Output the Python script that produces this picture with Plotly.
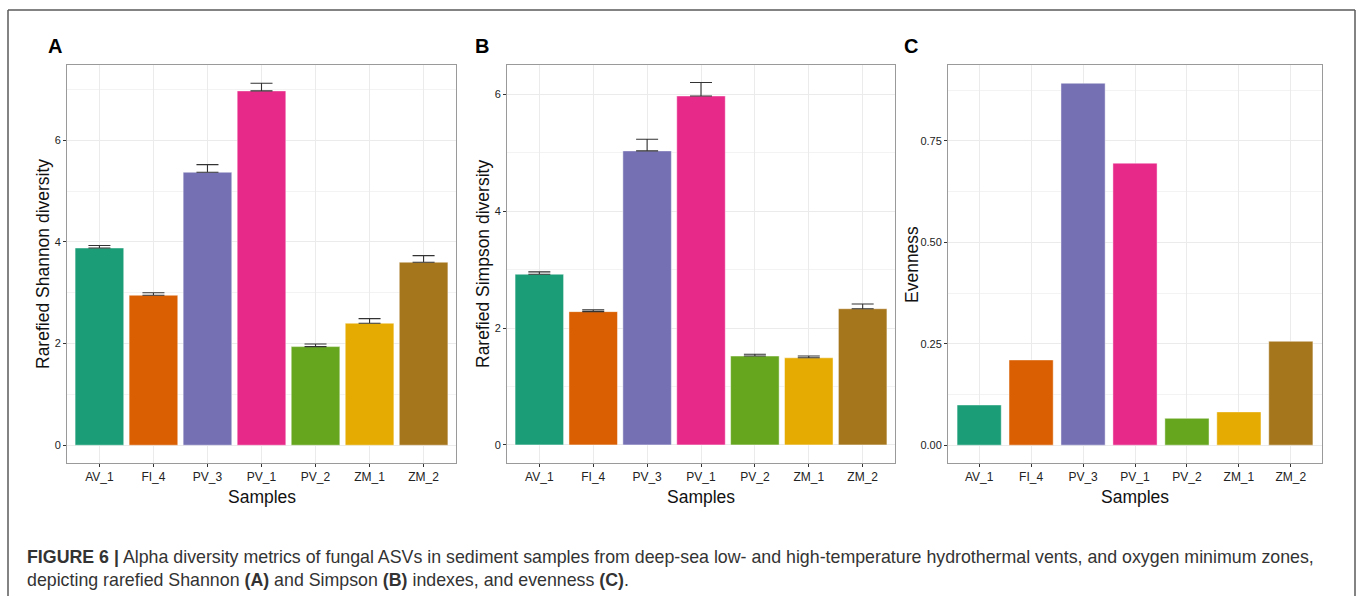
import plotly.graph_objects as go

# ---------------- data ----------------
samples = ["AV_1", "FI_4", "PV_3", "PV_1", "PV_2", "ZM_1", "ZM_2"]
bar_colors = ["#1B9E77", "#D95F02", "#7570B3", "#E7298A", "#66A61E", "#E6AB02", "#A6761D"]

shannon = [3.88, 2.95, 5.37, 6.97, 1.94, 2.40, 3.60]
shannon_se = [0.05, 0.05, 0.15, 0.15, 0.05, 0.09, 0.13]

simpson = [2.92, 2.28, 5.03, 5.97, 1.52, 1.49, 2.33]
simpson_se = [0.04, 0.03, 0.20, 0.23, 0.03, 0.03, 0.08]

evenness = [0.099, 0.210, 0.892, 0.695, 0.066, 0.082, 0.256]

W, H = 1358, 596


def px_x(x):
    return x / W


def px_y(y):
    return (H - y) / H


fig = go.Figure()

err_style = dict(type="data", symmetric=False, color="#333333", thickness=1.1, width=11)

fig.add_trace(go.Bar(
    x=samples, y=shannon, width=0.9,
    marker=dict(color=bar_colors, line=dict(color="rgba(255,255,255,0.45)", width=1)),
    error_y=dict(array=shannon_se, arrayminus=[0] * len(samples), **err_style),
    xaxis="x", yaxis="y", showlegend=False))

fig.add_trace(go.Bar(
    x=samples, y=simpson, width=0.9,
    marker=dict(color=bar_colors, line=dict(color="rgba(255,255,255,0.45)", width=1)),
    error_y=dict(array=simpson_se, arrayminus=[0] * len(samples), **err_style),
    xaxis="x2", yaxis="y2", showlegend=False))

fig.add_trace(go.Bar(
    x=samples, y=evenness, width=0.85,
    marker=dict(color=bar_colors, line=dict(color="rgba(255,255,255,0.45)", width=1)),
    xaxis="x3", yaxis="y3", showlegend=False))

ydom = [px_y(463), px_y(65)]
xdoms = [[px_x(67), px_x(456)], [px_x(507), px_x(895)], [px_x(948), px_x(1322)]]

common_x = dict(type="category", range=[-0.6, 6.6], showgrid=True, gridcolor="#EBEBEB",
                gridwidth=1, ticks="outside", ticklen=3, tickcolor="#333333",
                showline=True, mirror=True, linecolor="#9A9A9A", linewidth=1,
                tickfont=dict(size=12, color="#222222"), zeroline=False)
common_y = dict(showgrid=True, gridcolor="#EBEBEB", gridwidth=1, ticks="outside",
                ticklen=3, tickcolor="#333333", showline=True, mirror=True,
                linecolor="#9A9A9A", linewidth=1, zeroline=False,
                tickfont=dict(size=11, color="#222222"))

fig.update_layout(
    width=W, height=H, margin=dict(l=0, r=0, t=0, b=0),
    paper_bgcolor="white", plot_bgcolor="white",
    font=dict(family="Liberation Sans, Arial, sans-serif", color="#222222"),
    showlegend=False,
    xaxis=dict(domain=xdoms[0], anchor="y", **common_x),
    xaxis2=dict(domain=xdoms[1], anchor="y2", **common_x),
    xaxis3=dict(domain=xdoms[2], anchor="y3", **common_x),
    yaxis=dict(domain=ydom, anchor="x", range=[-0.35, 7.48], tickvals=[0, 2, 4, 6],
               minor=dict(tickvals=[1, 3, 5, 7], showgrid=True, gridcolor="#F3F3F3", gridwidth=0.7),
               **common_y),
    yaxis2=dict(domain=ydom, anchor="x2", range=[-0.31, 6.5], tickvals=[0, 2, 4, 6],
                minor=dict(tickvals=[1, 3, 5], showgrid=True, gridcolor="#F3F3F3", gridwidth=0.7),
                **common_y),
    yaxis3=dict(domain=ydom, anchor="x3", range=[-0.044, 0.937], tickvals=[0, 0.25, 0.5, 0.75],
                tickformat=".2f",
                minor=dict(tickvals=[0.125, 0.375, 0.625, 0.875], showgrid=True,
                           gridcolor="#F3F3F3", gridwidth=0.7),
                **common_y),
)

annotations = []
# panel letters
for letter, cx in [("A", 54.5), ("B", 482), ("C", 911)]:
    annotations.append(dict(text=f"<b>{letter}</b>", x=px_x(cx), y=px_y(46), xref="paper",
                            yref="paper", showarrow=False, xanchor="center", yanchor="middle",
                            font=dict(size=20, color="#000000",
                                      family="Liberation Sans, Arial, sans-serif")))
# y-axis titles
for txt, cx in [("Rarefied Shannon diversity", 43), ("Rarefied Simpson diversity", 483),
                ("Evenness", 912)]:
    annotations.append(dict(text=txt, x=px_x(cx), y=px_y(264), xref="paper", yref="paper",
                            showarrow=False, textangle=-90, xanchor="center", yanchor="middle",
                            font=dict(size=17.5, color="#111111")))
# x-axis titles
for cx in [261.5, 701, 1135]:
    annotations.append(dict(text="Samples", x=px_x(cx), y=px_y(497), xref="paper", yref="paper",
                            showarrow=False, xanchor="center", yanchor="middle",
                            font=dict(size=17.5, color="#111111")))
# caption
cap1 = ("<b>FIGURE 6 |</b> Alpha diversity metrics of fungal ASVs in sediment samples from "
        "deep-sea low- and high-temperature hydrothermal vents, and oxygen minimum zones,")
cap2 = ("depicting rarefied Shannon <b>(A)</b> and Simpson <b>(B)</b> indexes, and evenness "
        "<b>(C)</b>.")
annotations.append(dict(text=cap1, x=px_x(25), y=px_y(557), xref="paper", yref="paper",
                        showarrow=False, xanchor="left", yanchor="middle",
                        font=dict(size=17.8, color="#333333")))
annotations.append(dict(text=cap2, x=px_x(25), y=px_y(580), xref="paper", yref="paper",
                        showarrow=False, xanchor="left", yanchor="middle",
                        font=dict(size=17.8, color="#333333")))
fig.update_layout(annotations=annotations)

# figure frame (top, left, right)
frame = dict(type="line", xref="paper", yref="paper", line=dict(color="#5A5A5A", width=1.5))
fig.update_layout(shapes=[
    dict(x0=px_x(8), x1=px_x(1355), y0=px_y(10), y1=px_y(10), **frame),
    dict(x0=px_x(8), x1=px_x(8), y0=px_y(10), y1=0, **frame),
    dict(x0=px_x(1355), x1=px_x(1355), y0=px_y(10), y1=0, **frame),
])

fig.write_html("out.html")
